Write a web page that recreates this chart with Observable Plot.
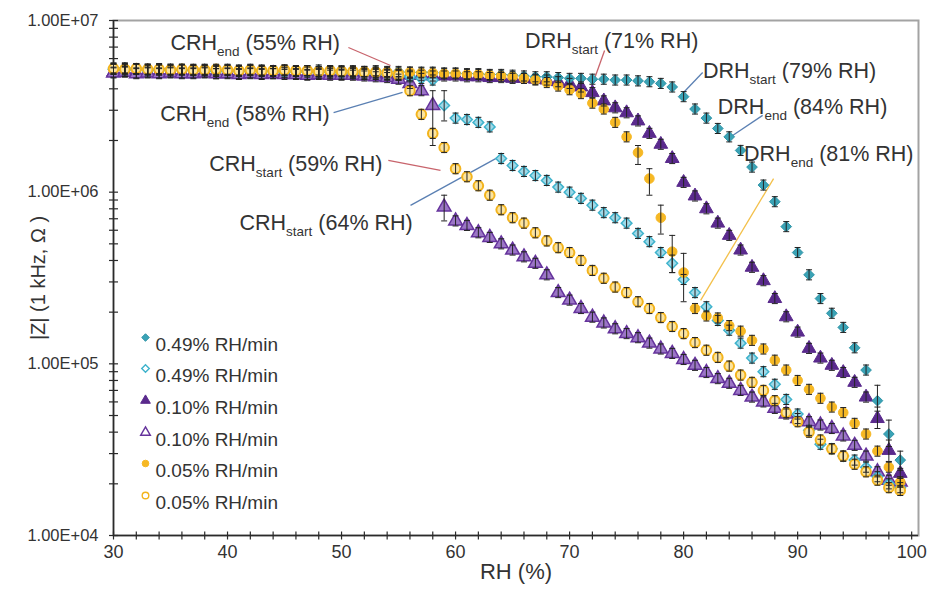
<!DOCTYPE html>
<html><head><meta charset="utf-8">
<script src="https://cdn.jsdelivr.net/npm/d3@7"></script>
<script src="https://cdn.jsdelivr.net/npm/@observablehq/plot@0.6"></script>
<style>html,body{margin:0;padding:0;background:#fff;} #chart{width:929px;height:594px;}</style>
</head><body><div id="chart"></div>
<script>
// ---------- DATA ----------
const RH = [30,31,32,33,34,35,36,37,38,39,40,41,42,43,44,45,46,47,48,49,50,51,52,53,54,55,56,57,58,59,60,61,62,63,64,65,66,67,68,69,70,71,72,73,74,75,76,77,78,79,80,81,82,83,84,85,86,87,88,89,90,91,92,93,94,95,96,97,98,99];

const seriesLabels = ["0.49% RH/min","0.49% RH/min","0.10% RH/min","0.10% RH/min","0.05% RH/min","0.05% RH/min"];

const z049Fill = [5.3e6,5.3e6,5.25e6,5.2e6,5.25e6,5.2e6,5.2e6,5.15e6,5.2e6,5.15e6,
 5.2e6,5.15e6,5.2e6,5.15e6,5.1e6,5.15e6,5.1e6,5.1e6,5.15e6,5.1e6,
 5.1e6,5.1e6,5.05e6,5.1e6,5.05e6,5.05e6,5.0e6,5.0e6,5.0e6,4.95e6,
 4.95e6,4.9e6,4.9e6,4.85e6,4.85e6,4.8e6,4.75e6,4.7e6,4.7e6,4.65e6,
 4.6e6,4.6e6,4.55e6,4.55e6,4.5e6,4.5e6,4.45e6,4.4e6,4.3e6,4.1e6,
 3.6e6,3.05e6,2.7e6,2.35e6,2.1e6,1.75e6,1.4e6,1.1e6,8.8e5,6.3e5,
 4.45e5,3.3e5,2.4e5,1.97e5,1.63e5,1.24e5,9.2e4,6.1e4,3.9e4,2.75e4];

const z049Open = [5.2e6,5.15e6,5.2e6,5.1e6,5.15e6,5.1e6,5.15e6,5.1e6,5.1e6,5.05e6,
 5.1e6,5.05e6,5.1e6,5.05e6,5.05e6,5.0e6,5.05e6,5.0e6,5.0e6,5.0e6,
 4.95e6,4.95e6,4.9e6,4.9e6,4.85e6,4.8e6,4.7e6,4.6e6,4.5e6,3.2e6,
 2.7e6,2.65e6,2.55e6,2.4e6,1.57e6,1.43e6,1.32e6,1.25e6,1.17e6,1.07e6,
 1.0e6,9.2e5,8.4e5,7.6e5,7.1e5,6.6e5,5.75e5,5.15e5,4.45e5,3.85e5,
 3.1e5,2.6e5,2.15e5,1.79e5,1.57e5,1.32e5,1.08e5,9.0e4,7.6e4,6.2e4,
 5.1e4,4.1e4,3.4e4,3.2e4,2.9e4,2.75e4,2.5e4,2.2e4,2.0e4,1.9e4];

const z010Fill = [5.0e6,5.05e6,4.95e6,5.0e6,4.95e6,5.0e6,4.95e6,4.95e6,5.0e6,4.9e6,
 4.95e6,4.9e6,4.95e6,4.9e6,4.9e6,4.95e6,4.9e6,4.85e6,4.9e6,4.9e6,
 4.85e6,4.9e6,4.85e6,4.85e6,4.8e6,4.85e6,4.8e6,4.8e6,4.75e6,4.75e6,
 4.75e6,4.7e6,4.7e6,4.65e6,4.65e6,4.6e6,4.6e6,4.55e6,4.5e6,4.4e6,
 4.3e6,4.1e6,3.8e6,3.4e6,3.1e6,2.9e6,2.6e6,2.2e6,1.9e6,1.57e6,
 1.14e6,9.5e5,8.0e5,6.6e5,5.6e5,4.6e5,3.65e5,3.05e5,2.4e5,1.88e5,
 1.53e5,1.23e5,1.08e5,9.8e4,8.9e4,7.8e4,6.4e4,4.8e4,3.13e4,2.3e4];

const z010Open = [4.95e6,5.0e6,4.9e6,4.95e6,4.9e6,4.95e6,4.9e6,4.9e6,4.95e6,4.9e6,
 4.9e6,4.85e6,4.9e6,4.85e6,4.9e6,4.85e6,4.85e6,4.8e6,4.85e6,4.8e6,
 4.8e6,4.8e6,4.75e6,4.7e6,4.65e6,4.55e6,4.3e6,3.9e6,3.2e6,8.2e5,
 6.8e5,6.4e5,5.8e5,5.45e5,5.0e5,4.6e5,4.2e5,3.85e5,3.3e5,2.6e5,
 2.35e5,2.1e5,1.87e5,1.73e5,1.6e5,1.5e5,1.42e5,1.32e5,1.22e5,1.15e5,
 1.06e5,9.8e4,8.9e4,8.2e4,7.7e4,7.0e4,6.4e4,6.0e4,5.5e4,5.1e4,
 4.8e4,4.6e4,4.4e4,4.2e4,3.8e4,3.35e4,2.9e4,2.35e4,2.1e4,2.05e4];

const z005Fill = [5.2e6,5.25e6,5.2e6,5.2e6,5.15e6,5.2e6,5.15e6,5.2e6,5.15e6,5.1e6,
 5.15e6,5.1e6,5.15e6,5.1e6,5.1e6,5.1e6,5.05e6,5.1e6,5.05e6,5.05e6,
 5.05e6,5.0e6,5.05e6,5.0e6,5.0e6,4.95e6,5.0e6,4.95e6,4.95e6,4.9e6,
 4.9e6,4.85e6,4.85e6,4.8e6,4.75e6,4.7e6,4.6e6,4.5e6,4.35e6,4.15e6,
 3.95e6,3.75e6,3.3e6,3.05e6,2.55e6,2.1e6,1.7e6,1.2e6,7.1e5,4.5e5,
 3.4e5,2.1e5,1.9e5,1.85e5,1.67e5,1.55e5,1.37e5,1.22e5,1.05e5,9.2e4,
 8.0e4,7.1e4,6.3e4,5.6e4,5.2e4,4.5e4,3.9e4,3.1e4,2.5e4,2.05e4];

const z005Open = [5.25e6,5.2e6,5.25e6,5.2e6,5.2e6,5.15e6,5.2e6,5.15e6,5.15e6,5.2e6,
 5.15e6,5.1e6,5.15e6,5.1e6,5.1e6,5.15e6,5.1e6,5.1e6,5.05e6,5.1e6,
 5.05e6,5.05e6,5.0e6,5.0e6,4.95e6,4.8e6,3.9e6,2.84e6,2.2e6,1.82e6,
 1.37e6,1.23e6,1.09e6,9.6e5,7.9e5,7.1e5,6.6e5,5.8e5,5.2e5,4.75e5,
 4.45e5,4.0e5,3.5e5,3.15e5,2.8e5,2.6e5,2.3e5,2.1e5,1.86e5,1.65e5,
 1.5e5,1.33e5,1.2e5,1.09e5,9.7e4,8.6e4,7.8e4,7.0e4,6.1e4,5.2e4,
 4.6e4,4.0e4,3.6e4,3.2e4,2.9e4,2.6e4,2.35e4,2.1e4,1.9e4,1.83e4];

// large error bars: [series index, RH, low, high]
const bigErrSeries = [3, 1, 3, 4, 4, 4, 4, 4, 0, 0, 0, 2, 2, 1];
const bigErrRH     = [58, 59, 59, 76, 77, 78, 79, 80, 97, 98, 99, 97, 98, 79];
const bigErrLo     = [1.87e6, 2.6e6, 6.8e5, 1.45e6, 9.6e5, 5.7e5, 3.4e5, 2.3e5, 5.3e4, 3.3e4, 2.4e4, 4.2e4, 2.7e4, 3.4e5];
const bigErrHi     = [3.9e6, 3.9e6, 9.6e5, 1.87e6, 1.37e6, 8.4e5, 5.6e5, 4.4e5, 7.5e4, 4.7e4, 3.1e4, 5.6e4, 3.6e4, 4.3e5];
const smallErrFactor = 1.07;

// annotations
const annLabels = ["CRH_end (55% RH)","CRH_end (58% RH)","CRH_start (59% RH)","CRH_start (64% RH)",
                   "DRH_start (71% RH)","DRH_start (79% RH)","DRH_end (84% RH)","DRH_end (81% RH)"];
const annX = [35.0, 34.1, 38.4, 41.05, 66.1, 81.7, 83.0, 85.3];
const annY = [7.35e6, 2.84e6, 1.46e6, 6.58e5, 7.55e6, 5.05e6, 3.11e6, 1.66e6];
const leadX1 = [50.6, 49.3, 54.1, 56.05, 73.07, 81.67, 86.93, 87.89];
const leadY1 = [6.96e6, 2.91e6, 1.53e6, 8.37e5, 6.68e6, 4.98e6, 2.80e6, 1.20e6];
const leadX2 = [54.3, 55.35, 58.68, 63.68, 71.75, 79.91, 84.30, 81.49];
const leadY2 = [5.47e6, 3.81e6, 1.34e6, 1.59e6, 3.81e6, 3.76e6, 2.14e6, 2.34e5];
const leadColor = ["#c8646c","#5b80b3","#c8646c","#5b80b3","#c8646c","#5b80b3","#5b80b3","#f3c04a"];

// axes
const xTickLabels = [30,40,50,60,70,80,90,100];
const xTicks = [30,32,34,36,38,40,42,44,46,48,50,52,54,56,58,60,62,64,66,68,70,72,74,76,78,80,82,84,86,88,90,92,94,96,98,100];
const yTickLabels = ["1.00E+04","1.00E+05","1.00E+06","1.00E+07"];
const yTickLabelValues = [1e4,1e5,1e6,1e7];
const yTicks = [1e4,2e4,3e4,4e4,5e4,6e4,7e4,8e4,9e4,1e5,2e5,3e5,4e5,5e5,6e5,7e5,8e5,9e5,1e6,2e6,3e6,4e6,5e6,6e6,7e6,8e6,9e6,1e7];

// ---------- BUILD ----------
const seriesZ = [z049Fill, z049Open, z010Fill, z010Open, z005Fill, z005Open];
const styles = [
  {symbol:"diamond2", r:4.8, fill:"#3aa3b6", stroke:"#2e93a6", sw:1,   lr:3.4},
  {symbol:"diamond2", r:4.8, fill:"#9fd9e8", stroke:"#3fb3cc", sw:1.5, lr:3.4, lfill:"#fff"},
  {symbol:"triangle", r:5.1, fill:"#5a2a8d", stroke:"#5a2a8d", sw:1,   lr:3.6},
  {symbol:"triangle", r:5.1, fill:"#9b76c6", stroke:"#65339c", sw:1.5, lr:3.6, lfill:"#fff"},
  {symbol:"circle",   r:4.8, fill:"#f6b824", stroke:"#f6b824", sw:1,   lr:3.3},
  {symbol:"circle",   r:4.8, fill:"#fbe4a0", stroke:"#f3b41d", sw:2,   lr:3.3, lfill:"#fff"}
];
const drawOrder = [2, 3, 0, 1, 4, 5];

const rows = seriesZ.map((zs, s) => RH.map((x, j) => ({s, x, z: zs[j]})));
const errRows = rows.flat().map(d => {
  let lo = d.z / smallErrFactor, hi = d.z * smallErrFactor;
  bigErrSeries.forEach((bs, k) => {
    if (bs === d.s && bigErrRH[k] === d.x) { lo = bigErrLo[k]; hi = bigErrHi[k]; }
  });
  return {x: d.x, lo, hi};
});
const ann = annLabels.map((t, i) => ({t, x: annX[i], y: annY[i]}));
const leads = annLabels.map((t, i) => ({x1: leadX1[i], y1: leadY1[i], x2: leadX2[i], y2: leadY2[i], c: leadColor[i]}));

const vTick = {draw(ctx) { ctx.moveTo(0, -4); ctx.lineTo(0, 4); }};
const hTick = {draw(ctx) { ctx.moveTo(-4.5, 0); ctx.lineTo(4.5, 0); }};
const hCap  = {draw(ctx) { ctx.moveTo(-3, 0); ctx.lineTo(3, 0); }};

const FONT = "Liberation Sans, Arial, Helvetica, sans-serif";
const marks = [];
marks.push(Plot.frame({stroke: "#a3a3a3", strokeWidth: 2}));
marks.push(Plot.ruleX([30], {stroke: "#2a2a2a", strokeWidth: 1.5}));
marks.push(Plot.ruleY([1e4], {stroke: "#2a2a2a", strokeWidth: 1.5}));
marks.push(Plot.dot(xTicks, {x: d => d, frameAnchor: "bottom", symbol: vTick, stroke: "#2a2a2a", fill: "none", strokeWidth: 1.2}));
marks.push(Plot.dot(yTicks, {y: d => d, frameAnchor: "left", symbol: hTick, stroke: "#2a2a2a", fill: "none", strokeWidth: 1.2}));
marks.push(Plot.text(xTickLabels, {x: d => d, frameAnchor: "bottom", dy: 22, fontSize: 18, fill: "#333"}));
marks.push(Plot.text(yTickLabelValues, {y: d => d, text: (d, i) => yTickLabels[i], frameAnchor: "left", dx: -15, textAnchor: "end", fontSize: 16.5, fill: "#333"}));
marks.push(Plot.text(["RH (%)"], {frameAnchor: "bottom", dy: 43, fontSize: 22, fill: "#333", textAnchor: "middle"}));
marks.push(Plot.text(["|Z| (1 kHz, Ω )"], {frameAnchor: "left", dx: -75, rotate: -90, fontSize: 20, fill: "#333", textAnchor: "middle"}));

// leader lines
marks.push(Plot.link(leads, {x1: "x1", y1: "y1", x2: "x2", y2: "y2", stroke: "c", strokeWidth: 1.3}));

// series
for (const s of drawOrder) {
  const st = styles[s];
  marks.push(Plot.dot(rows[s], {x: "x", y: "z", symbol: st.symbol, r: st.r, fill: st.fill, stroke: st.stroke, strokeWidth: st.sw}));
}
// error bars
marks.push(Plot.ruleX(errRows, {x: "x", y1: "lo", y2: "hi", stroke: "#222", strokeWidth: 1}));
marks.push(Plot.dot(errRows, {x: "x", y: "lo", symbol: hCap, stroke: "#222", fill: "none", strokeWidth: 1}));
marks.push(Plot.dot(errRows, {x: "x", y: "hi", symbol: hCap, stroke: "#222", fill: "none", strokeWidth: 1}));

// annotations
marks.push(Plot.text(ann, {x: "x", y: "y", text: "t", textAnchor: "start", fontSize: 21.5, fill: "#333"}));

// legend
const legendDy = [317, 348, 380, 412, 443, 475];
styles.forEach((st, i) => {
  marks.push(Plot.dot([0], {frameAnchor: "top-left", dx: 32, dy: legendDy[i], symbol: st.symbol, r: st.lr,
    fill: st.lfill ? st.lfill : st.fill, stroke: st.stroke, strokeWidth: st.lfill ? 1.4 : 1}));
  marks.push(Plot.text([seriesLabels[i]], {frameAnchor: "top-left", dx: 42, dy: legendDy[i], textAnchor: "start", fontSize: 19, fill: "#333"}));
});

const chart = Plot.plot({
  width: 929, height: 594,
  marginLeft: 113, marginRight: 11, marginTop: 20, marginBottom: 59,
  x: {domain: [30, 100.6], axis: null},
  y: {type: "log", domain: [1e4, 1e7], axis: null},
  style: {fontFamily: FONT, background: "#fff", overflow: "visible"},
  marks
});

// subscripts in annotation labels
d3.select(chart).selectAll("text").each(function() {
  const s = this.textContent;
  const m = s.match(/^([A-Z]+)_([a-z]+)(.*)$/);
  if (!m) return;
  const t = d3.select(this);
  t.selectAll("*").remove();
  t.text(null);
  t.append("tspan").text(m[1]);
  t.append("tspan").attr("font-size", 13.5).attr("dy", 6).text(m[2]);
  t.append("tspan").attr("dy", -6).style("white-space", "pre").text(m[3]);
});

document.getElementById("chart").appendChild(chart);
</script></body></html>
